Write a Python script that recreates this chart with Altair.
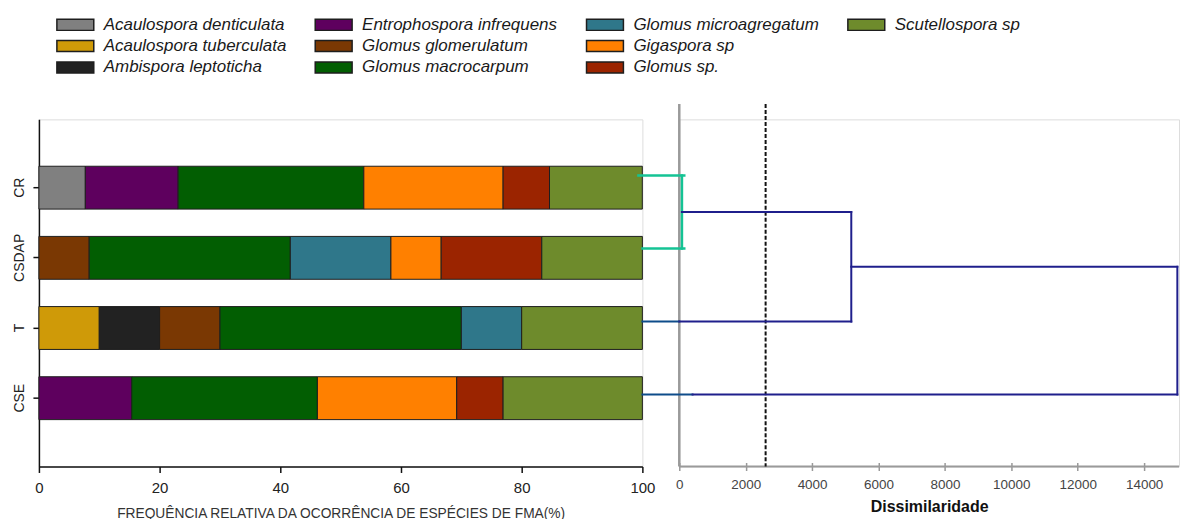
import altair as alt
import pandas as pd

# ---------------- data ----------------
species = ["Acaulospora denticulata", "Acaulospora tuberculata", "Ambispora leptoticha",
           "Entrophospora infrequens", "Glomus glomerulatum", "Glomus macrocarpum",
           "Glomus microagregatum", "Gigaspora sp", "Glomus sp.", "Scutellospora sp"]
species_colors = ["#808080", "#CF9A08", "#222222", "#5E005E", "#7A3803", "#025E02",
                  "#2F778A", "#FF8000", "#9B2400", "#6E8B2C"]
sites = ["CR", "CSDAP", "T", "CSE"]
freq_CR = [7.69, 0, 0, 15.38, 0, 30.77, 0, 23.08, 7.69, 15.38]
freq_CSDAP = [0, 0, 0, 0, 8.33, 33.33, 16.67, 8.33, 16.67, 16.67]
freq_T = [0, 10, 10, 0, 10, 40, 10, 0, 0, 20]
freq_CSE = [0, 0, 0, 15.38, 0, 30.77, 0, 23.08, 7.69, 23.08]
x_ticks = [0, 20, 40, 60, 80, 100]
legend_blanks = [" ", "  "]

# dendrogram (leaf order index: CR=0, CSDAP=1, T=2, CSE=3; x = dissimilarity)
seg_x1 = [-1230, -1110, 80, 80, -1110, 0, 5180, 5180, -1110, 400, 15000]
seg_x2 = [150, 150, 80, 5180, 0, 5180, 5180, 15000, 400, 15000, 15000]
seg_y1 = [0, 1, 0, 0.5, 2, 2, 0.5, 1.25, 3, 3, 1.25]
seg_y2 = [0, 1, 1, 0.5, 2, 2, 2, 1.25, 3, 3, 3]
seg_col = ["#14C394", "#14C394", "#14C394", "#1F1F8C", "#0E4C8A", "#1F1F8C",
           "#1F1F8C", "#1F1F8C", "#0E4C8A", "#1F1F8C", "#1F1F8C"]
seg_w = [2.5, 2.5, 2.5, 2, 2, 2, 2, 2, 2, 2, 2]
cut_height = 2600
dis_ticks = [0, 2000, 4000, 6000, 8000, 10000, 12000, 14000]

# ---------------- tables ----------------
rows = []
for s, vals in zip(sites, [freq_CR, freq_CSDAP, freq_T, freq_CSE]):
    for k, (sp, v) in enumerate(zip(species, vals)):
        if v > 0:
            rows.append({"site": s, "species": sp, "value": v, "k": k})
bars = pd.DataFrame(rows)

# legend entries fill column by column (3 rows); two invisible cells complete the grid
legend_domain = species + legend_blanks
legend_fill = species_colors + ["transparent"] * len(legend_blanks)
legend_stroke = ["#1e1e1e"] * len(species) + ["transparent"] * len(legend_blanks)

FONT = "Liberation Sans"

def make_legend():
    return alt.Legend(title=None, orient="none", legendX=26.5, legendY=-105, columns=4,
                      columnPadding=25, rowPadding=2.5, labelOffset=18.5,
                      symbolType="M-2,-0.6H2V0.6H-2Z", symbolSize=342, symbolStrokeWidth=1.5,
                      labelFont=FONT, labelFontSize=17, labelFontStyle="italic",
                      labelColor="#1a1a1a", labelLimit=0, padding=0)

left = alt.Chart(bars).mark_bar(strokeWidth=1).encode(
    x=alt.X("value:Q", stack="zero",
            scale=alt.Scale(domain=[0, 100], nice=False),
            axis=alt.Axis(values=x_ticks, grid=False, labelFlush=False,
                          domainColor="#111", domainWidth=1.5, tickColor="#111", tickWidth=1.5, tickSize=6,
                          labelFont=FONT, labelFontSize=15, labelColor="#222", labelPadding=8,
                          title="FREQUÊNCIA RELATIVA DA OCORRÊNCIA DE ESPÉCIES DE FMA(%)",
                          titleFont=FONT, titleFontSize=13.8, titleFontWeight="normal",
                          titleColor="#333", titlePadding=11)),
    y=alt.Y("site:N", sort=sites,
            scale=alt.Scale(paddingInner=0.389, paddingOuter=0.668),
            axis=alt.Axis(title=None, labelAngle=270, labelFont=FONT, labelFontSize=14,
                          labelColor="#222", labelPadding=6, tickSize=6,
                          domainColor="#111", domainWidth=1.5, tickColor="#111", tickWidth=1.5,
                          minExtent=30, maxExtent=30)),
    color=alt.Color("species:N", scale=alt.Scale(domain=legend_domain, range=legend_fill),
                    legend=make_legend()),
    stroke=alt.Stroke("species:N", scale=alt.Scale(domain=legend_domain, range=legend_stroke),
                      legend=make_legend()),
    order=alt.Order("k:Q"),
).properties(width=605, height=348)

# ---------------- dendrogram ----------------
segs = pd.DataFrame({"x1": seg_x1, "x2": seg_x2, "y1": seg_y1, "y2": seg_y2,
                     "col": seg_col, "w": seg_w})
y_top, y_bottom, axis_top = -0.769, 3.985, -0.978
xs = alt.Scale(domain=[0, 15050], nice=False, zero=False)
ys = alt.Scale(domain=[y_top, y_bottom], reverse=True, nice=False, zero=False)
xaxis = alt.Axis(values=dis_ticks, grid=False, domain=False, labelFlush=False, format="d",
                 tickColor="#999", tickWidth=1.5, tickSize=8, offset=-4,
                 labelFont=FONT, labelFontSize=13.5, labelColor="#444", labelPadding=7,
                 title="Dissimilaridade", titleFont=FONT, titleFontSize=16,
                 titleFontWeight="bold", titleColor="#111", titlePadding=8)

guides = pd.DataFrame({"x1": [0, 0, cut_height], "x2": [0, 15050, cut_height],
                       "y1": [axis_top, y_bottom, axis_top], "y2": [y_bottom, y_bottom, y_bottom],
                       "col": ["#9a9a9a", "#9a9a9a", "#111111"], "w": [2.5, 2, 2],
                       "kind": ["axis", "axis", "cut"]})

axis_lines = alt.Chart(guides[guides.kind == "axis"]).mark_rule().encode(
    x=alt.X("x1:Q", scale=xs, axis=xaxis), x2="x2:Q",
    y=alt.Y("y1:Q", scale=ys, axis=None), y2="y2:Q",
    color=alt.Color("col:N", scale=None), strokeWidth=alt.StrokeWidth("w:Q", scale=None))

cut_line = alt.Chart(guides[guides.kind == "cut"]).mark_rule(strokeDash=[4, 2]).encode(
    x=alt.X("x1:Q", scale=xs, axis=xaxis), x2="x2:Q",
    y=alt.Y("y1:Q", scale=ys, axis=None), y2="y2:Q",
    color=alt.Color("col:N", scale=None), strokeWidth=alt.StrokeWidth("w:Q", scale=None))

tree = alt.Chart(segs).mark_rule(strokeCap="square").encode(
    x=alt.X("x1:Q", scale=xs, axis=xaxis), x2="x2:Q",
    y=alt.Y("y1:Q", scale=ys, axis=None), y2="y2:Q",
    color=alt.Color("col:N", scale=None), strokeWidth=alt.StrokeWidth("w:Q", scale=None))

right = alt.layer(axis_lines, cut_line, tree).properties(width=501, height=348)

chart = alt.hconcat(left, right, spacing=37, bounds="flush").resolve_scale(
    color="independent", stroke="independent", strokeWidth="independent"
).properties(
    padding={"left": 0, "top": 5, "right": 0, "bottom": 0}
).configure_view(stroke=None).configure(font=FONT)

chart.save("out.html", embed_options={"renderer": "svg", "actions": False})
